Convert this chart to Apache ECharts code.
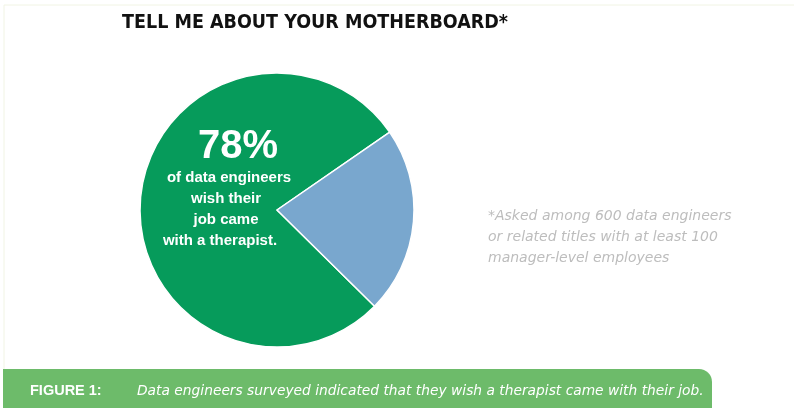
<!DOCTYPE html>
<html>
<head>
<meta charset="utf-8">
<script src="https://cdn.jsdelivr.net/npm/echarts@6/dist/echarts.min.js"></script>
<style>
  html, body { margin: 0; padding: 0; background: #ffffff; }
  #chart { width: 794px; height: 408px; }
</style>
</head>
<body>
<div id="chart"></div>
<script>
// Survey split: data engineers who wish their job came with a therapist
const categories = ['Wish a therapist came with the job', 'Other'];
const values = [78, 22];
const sliceColors = ['#069b5b', '#79a7ce'];

const titleText = 'TELL ME ABOUT YOUR MOTHERBOARD*';
const calloutLines = ['of data engineers', 'wish their', 'job came', 'with a therapist.'];
const noteLines = ['*Asked among 600 data engineers', 'or related titles with at least 100', 'manager-level employees'];
const figureTag = 'FIGURE 1:';
const figureCaption = 'Data engineers surveyed indicated that they wish a therapist came with their job.';

const chart = echarts.init(document.getElementById('chart'), null, { renderer: 'canvas' });

const calloutX = [229, 226, 226, 220];
const calloutY = [178, 199, 220, 241];

const graphics = [
  // faint page frame
  { type: 'line', shape: { x1: 4, y1: 5, x2: 794, y2: 5 }, style: { stroke: '#f1f4e4', lineWidth: 1 }, silent: true },
  { type: 'line', shape: { x1: 4, y1: 5, x2: 4, y2: 369 }, style: { stroke: '#f1f4e4', lineWidth: 1 }, silent: true },
  // headline percentage, taken from the data
  {
    type: 'text', x: 238, y: 147, silent: true,
    style: {
      text: values[0] + '%', fill: '#ffffff', align: 'center', verticalAlign: 'middle',
      font: 'bold 40px "Liberation Sans", Arial, sans-serif'
    }
  },
  // footer band
  {
    type: 'rect', shape: { x: 3, y: 369, width: 709, height: 45, r: [0, 13, 0, 0] },
    style: { fill: '#6dbb6a' }, silent: true
  },
  {
    type: 'text', x: 30, y: 391, silent: true,
    style: { text: figureTag, fill: '#ffffff', verticalAlign: 'middle',
      font: 'bold 14.5px "Liberation Sans", Arial, sans-serif' }
  },
  {
    type: 'text', x: 137, y: 391, silent: true,
    style: { text: figureCaption, fill: '#ffffff', verticalAlign: 'middle',
      font: 'italic 13.8px "DejaVu Sans", sans-serif' }
  },
  {
    type: 'text', x: 122, y: 23, silent: true,
    style: { text: titleText, fill: '#111111', verticalAlign: 'middle',
      font: 'bold condensed 19.5px "DejaVu Sans", sans-serif' }
  }
];

calloutLines.forEach(function (line, i) {
  graphics.push({
    type: 'text', x: calloutX[i], y: calloutY[i], silent: true,
    style: { text: line, fill: '#ffffff', align: 'center', verticalAlign: 'middle',
      font: 'bold 15px "Liberation Sans", Arial, sans-serif' }
  });
});

noteLines.forEach(function (line, i) {
  graphics.push({
    type: 'text', x: 488, y: 216 + i * 21, silent: true,
    style: { text: line, fill: '#bdbdbd', verticalAlign: 'middle',
      font: 'italic 14px "DejaVu Sans", sans-serif' }
  });
});

chart.setOption({
  backgroundColor: '#ffffff',
  animation: false,
  series: [{
    type: 'pie',
    center: [277, 210],
    radius: [0, 137],
    startAngle: 315.4,
    clockwise: true,
    silent: true,
    label: { show: false },
    labelLine: { show: false },
    emphasis: { disabled: true },
    itemStyle: { borderColor: '#ffffff', borderWidth: 1.5 },
    data: categories.map(function (name, i) {
      return { name: name, value: values[i], itemStyle: { color: sliceColors[i] } };
    }),
    z: 1
  }],
  graphic: { elements: graphics.map(function (g) { g.z = 100; return g; }) }
});
</script>
</body>
</html>
